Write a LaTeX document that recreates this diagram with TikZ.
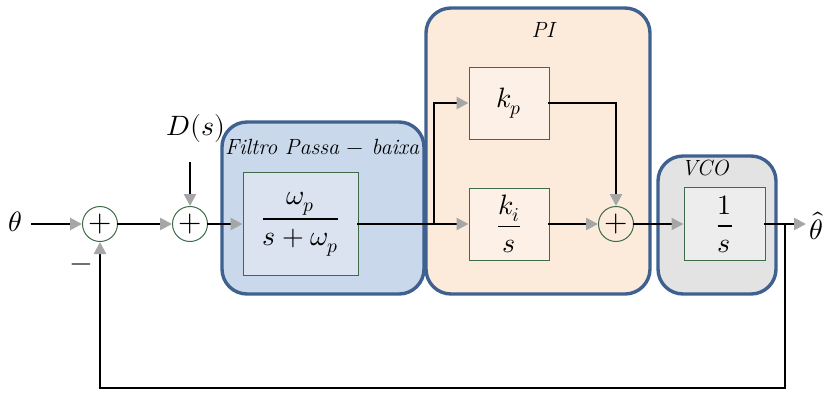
\documentclass[tikz,border=0pt]{standalone}
\usepackage{amsmath}
\usepackage{unicode-math}
\setmathfont{Latin Modern Math}
\usetikzlibrary{arrows.meta}

\definecolor{frameblue}{HTML}{3F6190}
\definecolor{boxgreen}{HTML}{3E6B48}
\definecolor{filtbg}{HTML}{C9D8EB}
\definecolor{filtin}{HTML}{DAE3EF}
\definecolor{pibg}{HTML}{FCEADB}
\definecolor{piin}{HTML}{FDF1E7}
\definecolor{vcobg}{HTML}{E3E3E3}
\definecolor{vcoin}{HTML}{EDEDED}
\definecolor{tipgray}{HTML}{A6A6A6}

\newcommand{\bigmath}{\fontsize{28}{32}\selectfont}
\newcommand{\plusfont}{\fontsize{30}{34}\selectfont}
\newcommand{\grouplabel}{\fontsize{22}{26}\selectfont\itshape}

\tikzset{
  group/.style={draw=frameblue, line width=3.4pt, rounded corners=25pt, inner sep=0pt},
  block/.style={draw=boxgreen, line width=1pt, inner sep=0pt, font=\bigmath},
  summer/.style={circle, draw=boxgreen, line width=1pt, minimum size=35pt, inner sep=0pt, font=\plusfont},
  signal/.style={line width=2.6pt, line cap=rect},
  flow/.style={signal, -{Triangle[length=12pt, width=12pt, color=tipgray]}},
  lbl/.style={inner sep=0pt, font=\bigmath},
}

\begin{document}
\begin{tikzpicture}[x=1pt, y=-1pt]
\useasboundingbox (0,0) rectangle (832,392);

% grouping frames
\node[group, fill=filtbg, minimum width=202pt, minimum height=172pt] (filt) at (323,208) {};
\node[group, fill=pibg, minimum width=224pt, minimum height=286pt] (pi) at (538,151) {};
\node[group, fill=vcobg, minimum width=118pt, minimum height=138pt] (vco) at (717,225) {};

\node[inner sep=0pt, font=\grouplabel] (filtlbl) at (322,147) {Filtro Passa $-$ baixa};
\node[inner sep=0pt, font=\grouplabel] (pilbl) at (543,30) {PI};
\node[inner sep=0pt, font=\grouplabel] (vcolbl) at (705,168) {VCO};

% blocks
\node[block, fill=filtin, minimum width=115pt, minimum height=103pt] (lp) at (300.5,224) {$\dfrac{\omega_p}{s+\omega_p}$};
\node[block, fill=piin, minimum width=80pt, minimum height=72pt] (kp) at (509,103) {$k_p$};
\node[block, fill=piin, minimum width=80pt, minimum height=72pt] (ki) at (509,224) {$\dfrac{k_i}{s}$};
\node[block, fill=vcoin, minimum width=81pt, minimum height=73pt] (int) at (724.5,224) {$\dfrac{1}{s}$};

% summing junctions
\node[summer] (s1) at (100,224) {$+$};
\node[summer] (s2) at (190,224) {$+$};
\node[summer] (s3) at (616,224) {$+$};

% signals and labels
\node[lbl] (theta) at (15,222) {$\theta$};
\node[lbl] (ds) at (196,128) {$D(s)$};
\node[lbl] (minus) at (81,268) {$-$};
\node[lbl, anchor=west] (thetahat) at (809,226) {$\hat{\theta}$};

\coordinate (thetaend) at (32,224);
\coordinate (dtop) at (190,163);
\coordinate (split) at (434,224);
\coordinate (out) at (785,224);
\coordinate (outend) at (806,224);
\coordinate (fbcorner) at (785,388);

\draw[flow] (thetaend) -- (s1.west);
\draw[flow] (s1) -- (s2);
\draw[flow] (dtop) -- (s2.north);
\draw[flow] (s2) -- (lp.west);
\draw[signal] (lp.east) -- (split);
\draw[flow] (split) |- (kp.west);
\draw[flow] (split) -- (ki.west);
\draw[flow] (ki) -- (s3);
\draw[flow] (kp.east) -| (s3.north);
\draw[flow] (s3) -- (int.west);
\draw[flow] (int.east) -- (outend);
\draw[flow] (out) -- (fbcorner) -| (s1.south);
\end{tikzpicture}
\end{document}
